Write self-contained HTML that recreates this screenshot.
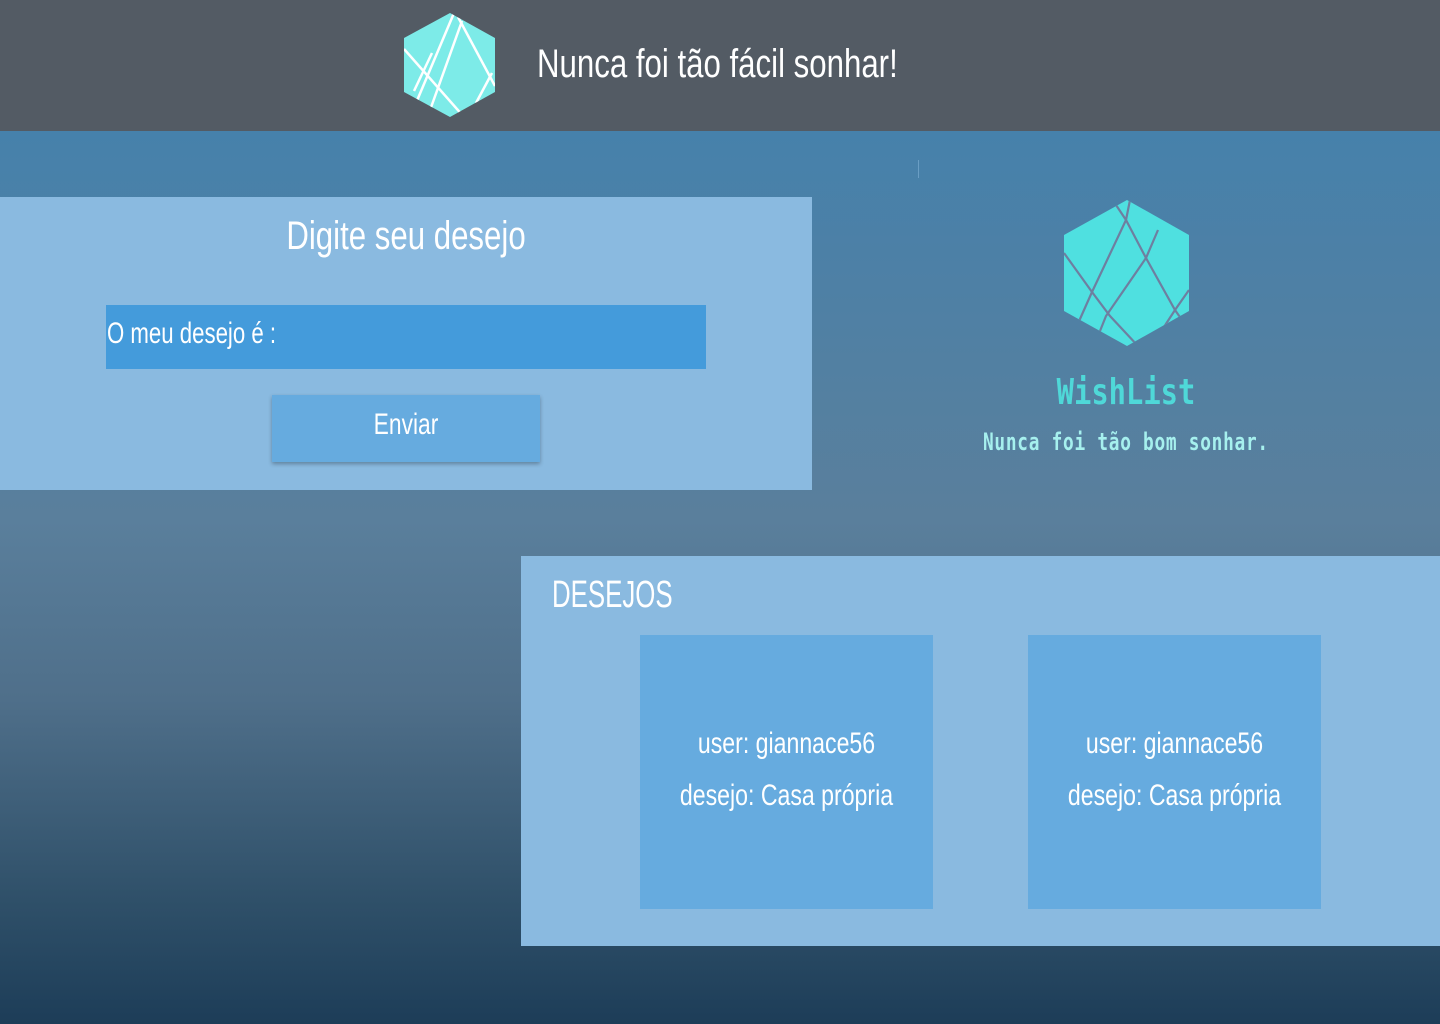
<!DOCTYPE html>
<html><head><meta charset="utf-8"><style>
*{margin:0;padding:0;box-sizing:border-box}
body{width:1440px;height:1024px;overflow:hidden;position:relative;font-family:"Liberation Sans Narrow","Liberation Sans",sans-serif;background:linear-gradient(180deg,#4681ab 131px,#5a7f9c 520px,#4f6f8a 700px,#2f5069 900px,#1d3d58 1024px)}
.a{position:absolute}
.t{color:#fff;white-space:nowrap}
</style></head><body>
<div class="a" style="left:0;top:0;width:1440px;height:131px;background:#535b64"></div>
<svg class="a" style="left:404px;top:13px" width="92" height="105" viewBox="0 0 92 105">
<defs><clipPath id="c1"><polygon points="46,0 91,25 91,79 46,104 0,79 0,25"/></clipPath></defs>
<polygon points="46,0 91,25 91,79 46,104 0,79 0,25" fill="#7debe8"/>
<g stroke="#fff" stroke-width="2.5" fill="none" clip-path="url(#c1)">
<line x1="50" y1="0" x2="12" y2="90"/><line x1="58" y1="8" x2="25" y2="100"/><line x1="0" y1="36" x2="60" y2="104"/><line x1="28" y1="40" x2="10" y2="78"/><line x1="54" y1="4" x2="91" y2="73"/><line x1="88" y1="60" x2="72" y2="90"/>
</g></svg>
<div class="a t" style="left:537px;top:42px;font-size:40px;transform:scaleX(.78);transform-origin:left top">Nunca foi tão fácil sonhar!</div>
<div class="a" style="left:918px;top:160px;width:1px;height:18px;background:#6a9ec4"></div>
<div class="a" style="left:0;top:197px;width:812px;height:293px;background:#8abae0"></div>
<div class="a t" style="left:0;width:812px;top:214px;font-size:40px;text-align:center;transform:scaleX(.78)">Digite seu desejo</div>
<div class="a" style="left:106px;top:305px;width:600px;height:64px;background:#449bdb"></div>
<div class="a t" style="left:107px;top:317px;font-size:30px;transform:scaleX(.74);transform-origin:left top">O meu desejo é :</div>
<div class="a" style="left:272px;top:395px;width:268px;height:67px;background:#66abdf;box-shadow:0 2px 4px rgba(0,0,0,.3)"></div>
<div class="a t" style="left:272px;width:268px;top:408px;font-size:30px;text-align:center;transform:scaleX(.76)">Enviar</div>
<svg class="a" style="left:1064px;top:200px" width="126" height="146" viewBox="0 0 126 146">
<defs><clipPath id="c2"><polygon points="63,0 125,35 125,111 63,146 0,111 0,35"/></clipPath></defs>
<polygon points="63,0 125,35 125,111 63,146 0,111 0,35" fill="#4fe0e0"/>
<g stroke="#6e7fa0" stroke-width="2.2" fill="none" clip-path="url(#c2)">
<polyline points="50,2 62,20 82,58 111,110 125,130"/><polyline points="66,0 62,20 28,92 12,128"/><polyline points="94,30 82,58 42,116 30,146"/><polyline points="0,53 28,92 46,116 74,146"/><polyline points="125,90 111,110 98,130"/>
</g></svg>
<div class="a" style="left:1000px;width:252px;top:372px;font-size:36px;font-weight:bold;color:#4fd8d8;text-align:center;white-space:nowrap;font-family:'DejaVu Sans Mono',monospace;transform:scaleX(.8)">WishList</div>
<div class="a" style="left:983px;top:428px;font-size:24px;font-weight:bold;color:#a6f0ee;white-space:nowrap;font-family:'DejaVu Sans Mono',monospace;transform:scaleX(.74);transform-origin:left top;letter-spacing:1px">Nunca foi tão bom sonhar.</div>
<div class="a" style="left:521px;top:556px;width:919px;height:390px;background:#8abae0"></div>
<div class="a t" style="left:552px;top:574px;font-size:38px;transform:scaleX(.68);transform-origin:left top">DESEJOS</div>
<div class="a" style="left:640px;top:635px;width:293px;height:274px;background:#66abdf"></div>
<div class="a" style="left:1028px;top:635px;width:293px;height:274px;background:#66abdf"></div>
<div class="a t" style="left:640px;width:293px;top:718px;font-size:30px;text-align:center;line-height:52px;transform:scaleX(.77)">user: giannace56<br>desejo: Casa própria</div>
<div class="a t" style="left:1028px;width:293px;top:718px;font-size:30px;text-align:center;line-height:52px;transform:scaleX(.77)">user: giannace56<br>desejo: Casa própria</div>
</body></html>
